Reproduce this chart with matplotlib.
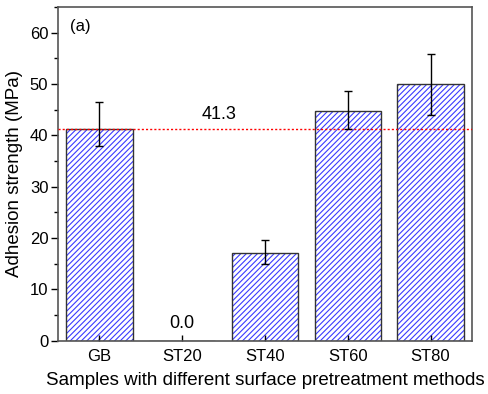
import matplotlib
matplotlib.use('Agg')
import matplotlib.pyplot as plt
from matplotlib.ticker import MultipleLocator

plt.rcParams['font.family'] = ['Liberation Sans', 'DejaVu Sans']
plt.rcParams['hatch.linewidth'] = 0.8

samples = ['GB', 'ST20', 'ST40', 'ST60', 'ST80']
strength = [41.3, 0.0, 17.1, 44.7, 50.0]
err_low = [3.4, 0.0, 2.2, 3.5, 6.0]
err_high = [5.3, 0.0, 2.6, 3.9, 5.9]
baseline = 41.3

fig = plt.figure(figsize=(4.88, 3.94), dpi=100)
ax = fig.add_axes([0.119, 0.135, 0.848, 0.847])

x = range(len(samples))
# hatch pass in blue, then the outline in dark grey
ax.bar(x, strength, width=0.8, color='white', edgecolor='#3a3aff',
       hatch='//////', linewidth=0)
ax.bar(x, strength, width=0.8, facecolor='none', edgecolor='#333333',
       linewidth=1.0)
keep = [i for i in x if err_high[i] > 0]
ax.errorbar(keep, [strength[i] for i in keep],
            yerr=[[err_low[i] for i in keep], [err_high[i] for i in keep]],
            fmt='none', ecolor='black', elinewidth=1.0, capsize=3,
            capthick=1.0, zorder=4)

ax.axhline(baseline, color='#ff0000', linestyle=(0, (1.5, 1.5)),
           linewidth=1.0, zorder=3)
ax.text(1.45, baseline + 1.2, '%.1f' % baseline, ha='center', va='bottom',
        fontsize=13)
ax.text(1, 1.8, '0.0', ha='center', va='bottom', fontsize=13)
ax.text(0.03, 0.965, '(a)', transform=ax.transAxes, ha='left', va='top',
        fontsize=12)

ax.set_xlim(-0.5, 4.5)
ax.set_ylim(0, 65)
ax.set_xticks(list(x))
ax.set_xticklabels(samples, fontsize=12)
ax.yaxis.set_major_locator(MultipleLocator(10))
ax.yaxis.set_minor_locator(MultipleLocator(5))
ax.tick_params(axis='y', direction='out', labelsize=12, length=5, width=1,
               pad=2)
ax.tick_params(axis='y', which='minor', direction='out', length=3, width=1)
ax.tick_params(axis='x', direction='in', length=4, width=1, pad=6)
ax.set_ylabel('Adhesion strength (MPa)', fontsize=13.5, labelpad=5)
ax.set_xlabel('Samples with different surface pretreatment methods',
              fontsize=13.5, labelpad=6)
for sp in ax.spines.values():
    sp.set_color('#555555')
    sp.set_linewidth(1.2)

fig.savefig('out.png', dpi=100)
